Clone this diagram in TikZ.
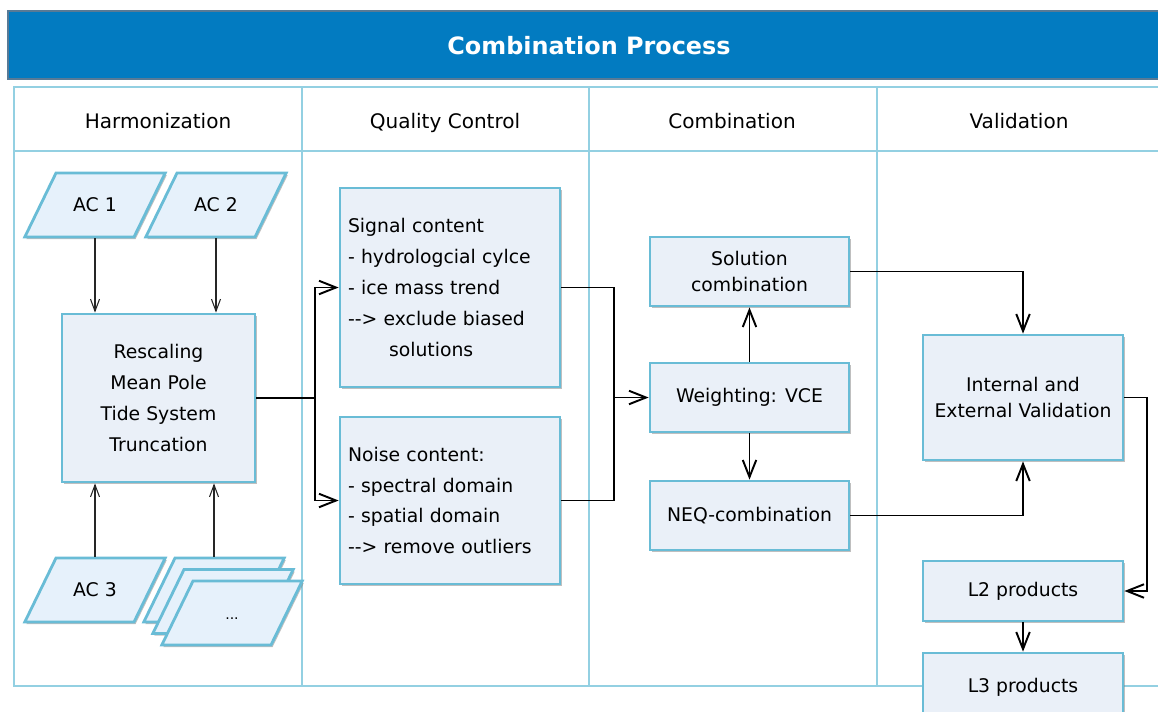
\documentclass[tikz,border=0pt]{standalone}
\usepackage{fontspec}
\setmainfont{DejaVu Sans}
\usetikzlibrary{shapes.geometric,shadows,arrows.meta}

\definecolor{titleblue}{HTML}{027BC1}
\definecolor{titleedge}{HTML}{587A96}
\definecolor{gridline}{HTML}{93D0E2}
\definecolor{boxedge}{HTML}{69BCD6}
\definecolor{boxfill}{HTML}{EAF0F8}
\definecolor{acfill}{HTML}{E6F1FB}

\newcommand\boxfont{\fontsize{10.7}{14.5}\selectfont}
\newcommand\listfont{\fontsize{10.7}{17.6}\selectfont}

\tikzset{
  boxshadow/.style={drop shadow={shadow xshift=0.9pt, shadow yshift=-1.2pt, fill=black!50, opacity=0.5}},
  procbox/.style={draw=boxedge, line width=1.6pt, fill=boxfill, boxshadow,
    inner xsep=0.16cm, inner ysep=0pt, align=center, font=\boxfont},
  listbox/.style={procbox, align=left, text width=4.08cm, font=\listfont},
  acbox/.style={trapezium, trapezium left angle=64, trapezium right angle=116,
    draw=boxedge, line width=1.6pt, fill=acfill, boxshadow, font=\boxfont,
    text width=1.2cm, align=center, text height=0.26cm, text depth=0.02cm,
    inner xsep=0.18cm, inner ysep=0.5cm},
  thinarrow/.style={-{Straight Barb[length=2.4mm,width=1.8mm]}, line width=0.6pt, black!85},
  flow/.style={-{Straight Barb[length=3.4mm,width=2.7mm]}, line width=1.1pt},
}

\begin{document}
\begin{tikzpicture}[x=0.02cm, y=-0.02cm, line width=1.1pt]
  \useasboundingbox (0,0) rectangle (1158,711);
  \clip (0,0) rectangle (1158,711);
  % title bar
  \draw[titleedge, fill=titleblue, line width=1.2pt] (8,11) rectangle (1175,79);
  \node[font=\bfseries\fontsize{13.6}{16}\selectfont, text=white] (title) at (589,46) {Combination Process};
  % lanes
  \draw[gridline, line width=0.8pt] (1175,87) -| (14,686) -- (1175,686);
  \draw[gridline, line width=0.8pt] (14,151) -- (1175,151);
  \foreach \x in {302,589,877}
    \draw[gridline, line width=0.8pt] (\x,87) -- (\x,686);
  \foreach \x/\name/\txt in {158/hharm/Harmonization, 445/hqc/Quality Control,
                             732/hcomb/Combination, 1019/hval/Validation}
    \node[font=\fontsize{11.4}{13}\selectfont, anchor=base] (\name) at (\x,128) {\txt};

  % Harmonization
  \node[acbox] (ac1) at (95,205) {AC 1};
  \node[acbox] (ac2) at (216,205) {AC 2};
  \node[procbox, font=\listfont, minimum width=3.86cm, minimum height=3.36cm] (rescale) at (158.5,398)
    {Rescaling\\Mean Pole\\Tide System\\Truncation};
  \node[acbox] (ac3) at (95,590) {AC 3};
  \node[acbox] (acn1) at (214,590) {};
  \node[acbox] (acn2) at (223,601.5) {};
  \node[acbox] (acn3) at (232,613) {\footnotesize ...};
  \draw[thinarrow] (ac1.south) -- (ac1.south |- rescale.north);
  \draw[thinarrow] (ac2.south) -- (ac2.south |- rescale.north);
  \draw[thinarrow] (ac3.north) -- (ac3.north |- rescale.south);
  \draw[thinarrow] (acn1.north) -- (acn1.north |- rescale.south);

  % Quality Control
  \node[listbox, minimum height=3.98cm] (signal) at (450,287.5)
    {Signal content\\- hydrologcial cylce\\- ice mass trend\\-{}-> exclude biased\\\hspace*{0.82cm}solutions};
  \node[listbox, minimum height=3.34cm] (noise) at (450,500.5)
    {Noise content:\\- spectral domain\\- spatial domain\\-{}-> remove outliers};
  \coordinate (split) at (315,398);
  \draw (rescale.east) -- (split);
  \draw[flow] (split) |- (signal.west);
  \draw[flow] (split) |- (noise.west);

  % Combination
  \node[procbox, minimum width=3.98cm, minimum height=1.38cm] (solcomb) at (749.5,271.5) {Solution\\combination};
  \node[procbox, minimum width=3.98cm, minimum height=1.38cm] (weight) at (749.5,397.5) {Weighting: VCE};
  \node[procbox, minimum width=3.98cm, minimum height=1.38cm] (neq) at (749.5,515.5) {NEQ-combination};
  \coordinate (join) at (614,397.5);
  \draw (signal.east) -| (join);
  \draw (noise.east) -| (join);
  \draw[flow] (join) -- (weight.west);
  \draw[flow] (weight) -- (solcomb);
  \draw[flow] (weight) -- (neq);

  % Validation
  \node[procbox, minimum width=4cm, minimum height=2.5cm] (valid) at (1023,397.5) {Internal and\\External Validation};
  \node[procbox, minimum width=4cm, minimum height=1.2cm] (ltwo) at (1023,591) {L2 products};
  \node[procbox, minimum width=4cm, minimum height=1.36cm] (lthree) at (1023,687) {L3 products};
  \draw[flow] (solcomb.east) -| (valid.north);
  \draw[flow] (neq.east) -| (valid.south);
  \coordinate (turn) at (1147,397.5);
  \draw[flow] (valid.east) -- (turn) |- (ltwo.east);
  \draw[flow] (ltwo) -- (lthree);
\end{tikzpicture}
\end{document}
